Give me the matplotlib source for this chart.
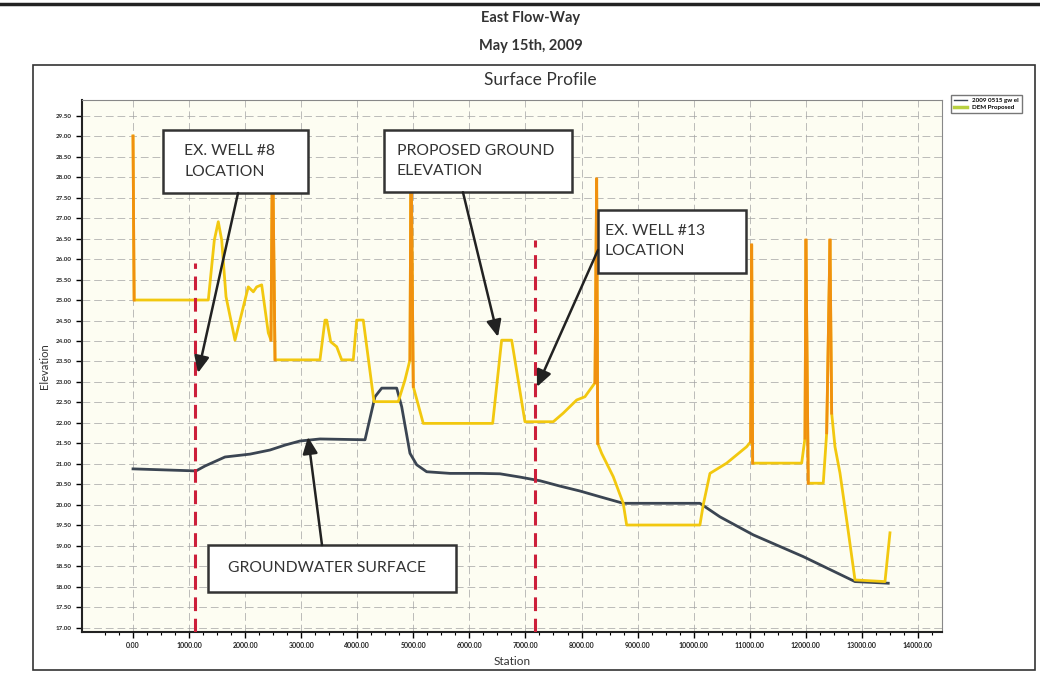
import numpy as np
import matplotlib.pyplot as plt
from matplotlib.lines import Line2D
from matplotlib.patches import Rectangle

plt.rcParams['font.family'] = ['Lato', 'DejaVu Sans']

# DEM proposed ground surface (station, elevation)
dem_station = [0, 20, 1343, 1450, 1521, 1582, 1659, 1819, 2056, 2146, 2206, 2295, 2413, 2461,
               2488, 2533, 3335, 3424, 3455, 3526, 3633, 3722, 3929, 3990, 4107, 4298, 4731,
               4851, 4940, 4958, 4999, 5177, 6415, 6575, 6754, 6991, 7496, 7674, 7913, 8061,
               8240, 8270, 8290, 8359, 8566, 8744, 8805, 10112, 10171, 10291, 10589, 10945,
               11017, 11035, 11053, 11927, 11986, 12003, 12044, 12312, 12373, 12432, 12462,
               12521, 12610, 12730, 12878, 13413, 13502]
dem_elev = [29.0, 25.0, 25.0, 26.46, 26.91, 26.46, 25.08, 24.02, 25.32, 25.20, 25.32, 25.37, 24.20, 24.02,
            29.0, 23.54, 23.54, 24.51, 24.51, 23.98, 23.86, 23.54, 23.54, 24.51, 24.51, 22.52, 22.52,
            23.05, 23.54, 28.9, 22.89, 21.99, 21.99, 24.02, 24.02, 22.03, 22.03, 22.24, 22.56, 22.64,
            22.98, 27.95, 21.50, 21.26, 20.69, 20.04, 19.51, 19.51, 20.0, 20.77, 21.02, 21.42,
            21.54, 26.34, 21.02, 21.02, 21.63, 26.46, 20.53, 20.53, 21.76, 26.46, 22.24,
            21.42, 20.78, 19.63, 18.17, 18.13, 19.32]

# groundwater surface (station, elevation)
gw_station = [0, 1124, 1284, 1641, 2087, 2443, 2711, 2978, 3335, 4138, 4316, 4436, 4703, 4792,
              4940, 5060, 5238, 5654, 6189, 6545, 6902, 7259, 7615, 7972, 8329, 8744, 10112,
              10469, 11063, 11954, 12878, 13471]
gw_elev = [20.88, 20.83, 20.95, 21.17, 21.24, 21.34, 21.46, 21.56, 21.61, 21.59, 22.64, 22.85, 22.85, 22.40,
           21.26, 20.98, 20.81, 20.77, 20.77, 20.76, 20.68, 20.59, 20.46, 20.34, 20.20, 20.04, 20.04,
           19.71, 19.27, 18.74, 18.13, 18.09]

x_ticks = np.arange(0, 14001, 1000)
y_ticks = np.arange(17.0, 29.51, 0.5)

well_stations = [1106, 7170]
well_tops = [25.9, 26.46]

fig = plt.figure(figsize=(10.4, 6.76), dpi=100)
fig.patch.set_facecolor('white')

# page frame and headings
fig.add_artist(Line2D([0, 1], [1 - 4/676, 1 - 4/676], color='#222222', lw=2.5))
fig.add_artist(Rectangle((33/1040, 1 - 670/676), (1035-33)/1040, (670-65)/676,
                         fill=False, edgecolor='#333333', lw=1.2))
fig.text(0.51, 1 - 18/676, 'East Flow-Way', ha='center', va='center', fontsize=10.5,
         color='#333333', fontweight='bold')
fig.text(0.51, 1 - 46/676, 'May 15th, 2009', ha='center', va='center', fontsize=10.5,
         color='#333333', fontweight='bold')
fig.text(0.52, 1 - 80/676, 'Surface Profile', ha='center', va='center', fontsize=12.5,
         color='#333333')

ax = fig.add_axes([82/1040, 1 - 632/676, (942-82)/1040, (632-100)/676])
ax.set_facecolor('#fdfdf2')

ax.plot(gw_station, gw_elev, color='#3b4552', lw=2, zorder=3)
ax.plot(dem_station, dem_elev, color='#f2c80f', lw=2, zorder=3)
# steep segments show up orange in the print
for i in range(len(dem_station) - 1):
    dx = dem_station[i+1] - dem_station[i]
    dy = dem_elev[i+1] - dem_elev[i]
    if abs(dy) / max(dx, 1) > 0.05:
        ax.plot(dem_station[i:i+2], dem_elev[i:i+2], color='#f0900f', lw=2, zorder=4)

for s, top in zip(well_stations, well_tops):
    ax.plot([s, s], [16.9, top], color='#cc1f3a', lw=2.2, ls=(0, (4.5, 2.5)), zorder=5)

ax.set_xlim(-910, 14430)
ax.set_ylim(16.9, 29.88)
ax.set_xticks(x_ticks)
ax.set_xticklabels(['%.2f' % v for v in x_ticks], fontsize=5, fontweight='bold', color='#222222')
ax.set_xticks(np.arange(-500, 14430, 250), minor=True)
ax.set_yticks(y_ticks)
ax.set_yticklabels(['%.2f' % v for v in y_ticks], fontsize=4.5, fontweight='bold', color='#222222')
ax.tick_params(axis='both', which='major', length=4, width=1, direction='out')
ax.tick_params(axis='x', which='minor', length=2, width=0.8)
ax.grid(True, which='major', color='#a0a0a0', lw=0.7, ls=(0, (8, 4)), alpha=0.7)
ax.set_axisbelow(True)

for side in ['top', 'right']:
    ax.spines[side].set_color('#888888')
    ax.spines[side].set_linewidth(0.8)
for side in ['left', 'bottom']:
    ax.spines[side].set_color('#222222')
    ax.spines[side].set_linewidth(1.5)

ax.set_xlabel('Station', fontsize=8.5, labelpad=5, color='#333333')
ax.set_ylabel('Elevation', fontsize=8, labelpad=4, color='#333333')


def note_box(x0, x1, y0, y1, text, tx, tail, tip):
    ax.add_patch(Rectangle((x0, y0), x1 - x0, y1 - y0, facecolor='white',
                           edgecolor='#333333', lw=1.8, zorder=6))
    ax.text(tx, (y0 + y1) / 2, text, ha='left', va='center', fontsize=11.3,
            color='#333333', linespacing=1.55, zorder=7)
    ax.annotate('', xy=tip, xytext=tail, zorder=8,
                arrowprops=dict(arrowstyle='-|>,head_length=1.0,head_width=0.45',
                                color='#222222', lw=1.8, shrinkA=0, shrinkB=0))


note_box(535, 3121, 27.61, 29.15, 'EX. WELL #8\nLOCATION', 910, (1873, 27.61), (1159, 23.22))
note_box(4477, 7830, 27.63, 29.15, 'PROPOSED GROUND\nELEVATION', 4708, (5885, 27.63), (6510, 24.10))
note_box(8294, 10930, 25.66, 27.2, 'EX. WELL #13\nLOCATION', 8418, (8294, 26.22), (7205, 22.88))
note_box(1338, 5761, 17.88, 19.02, 'GROUNDWATER SURFACE', 1694, (3371, 19.02), (3121, 21.66))

handles = [Line2D([], [], color='#3b4552', lw=1), Line2D([], [], color='#b8d040', lw=2.5)]
fig.legend(handles, ['2009 0515 gw el', 'DEM Proposed'], loc='upper left',
           bbox_to_anchor=(948/1040, 1 - 92/676), fontsize=4.5, frameon=True,
           fancybox=False, edgecolor='#555555', handlelength=2.2, borderpad=0.4,
           labelspacing=0.3, prop={'weight': 'bold', 'size': 4.5})

fig.savefig('out.png', dpi=100)
